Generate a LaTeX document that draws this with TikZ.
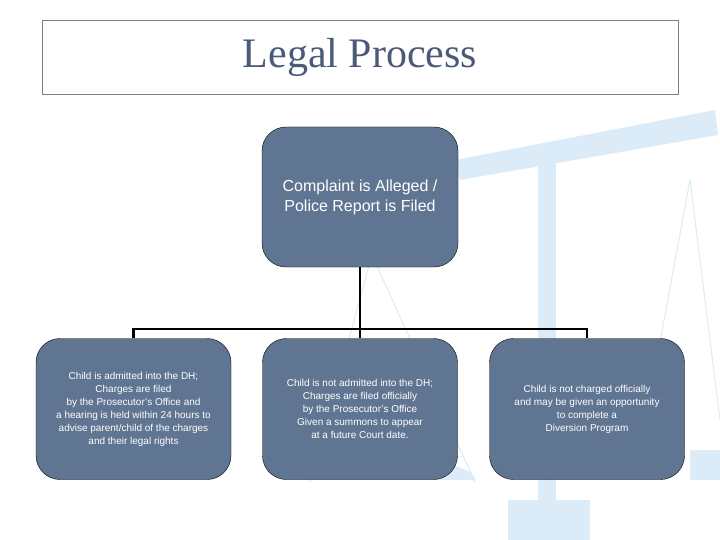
\documentclass[tikz,border=0pt]{standalone}
\usepackage{fontspec}
\setmainfont{Liberation Sans}
\newfontfamily\titlefont{Liberation Serif}
\usetikzlibrary{positioning}
\definecolor{boite}{HTML}{5F7591}
\definecolor{balance}{HTML}{DCEBF8}
\definecolor{titre}{HTML}{4A5A78}
\begin{document}
\begin{tikzpicture}[x=1pt, y=-1pt]
\tikzstyle{etape} = [draw=black, fill=boite, rounded corners=24pt, text=white, align=center, minimum width=195pt, minimum height=141pt, font=\fontsize{10}{13}\selectfont]
\tikzstyle{lien} = [line width=2.2pt]
\useasboundingbox (0,0) rectangle (720,540);
% balance en fond
\fill[balance] (455,160) -- (715,110) -- (718,135) -- (460,180) -- cycle;
\fill[balance] (538,150) rectangle (556,540);
\fill[balance] (508,500) rectangle (590,540);
\fill[balance] (305,480) arc (180:360:85 and 22) -- cycle;
\draw[balance, line width=1pt] (372,255) -- (310,482) (372,255) -- (475,482);
\draw[balance, line width=1pt] (690,180) -- (640,450) (690,180) -- (720,420);
\fill[balance] (690,450) rectangle (720,480);
% titre
\node[draw=gray, minimum width=636pt, minimum height=74pt, font=\titlefont\fontsize{42}{46}\selectfont, text=titre] (titre) at (360,57) {Legal Process};
% noeuds
\node[etape, minimum width=196pt, minimum height=140pt, font=\fontsize{16}{20}\selectfont] (plainte) at (360,197) {Complaint is Alleged /\\ Police Report is Filed};
\node[etape] (admis) at (133.5,409) {Child is admitted into the DH;\\Charges are filed\\by the Prosecutor's Office and\\a hearing is held within 24 hours to\\advise parent/child of the charges\\and their legal rights};
\node[etape] (nonadmis) at (360,409) {Child is not admitted into the DH;\\Charges are filed officially\\by the Prosecutor's Office\\Given a summons to appear\\at a future Court date.};
\node[etape] (diversion) at (587,409) {Child is not charged officially\\and may be given an opportunity\\to complete a\\Diversion Program};
% liens
\coordinate (bus) at (360,329);
\draw[lien] (plainte) -- (bus);
\draw[lien] (admis.north) -- (admis.north |- bus) -- (diversion.north |- bus) -- (diversion.north);
\draw[lien] (bus) -- (nonadmis);
\end{tikzpicture}
\end{document}
